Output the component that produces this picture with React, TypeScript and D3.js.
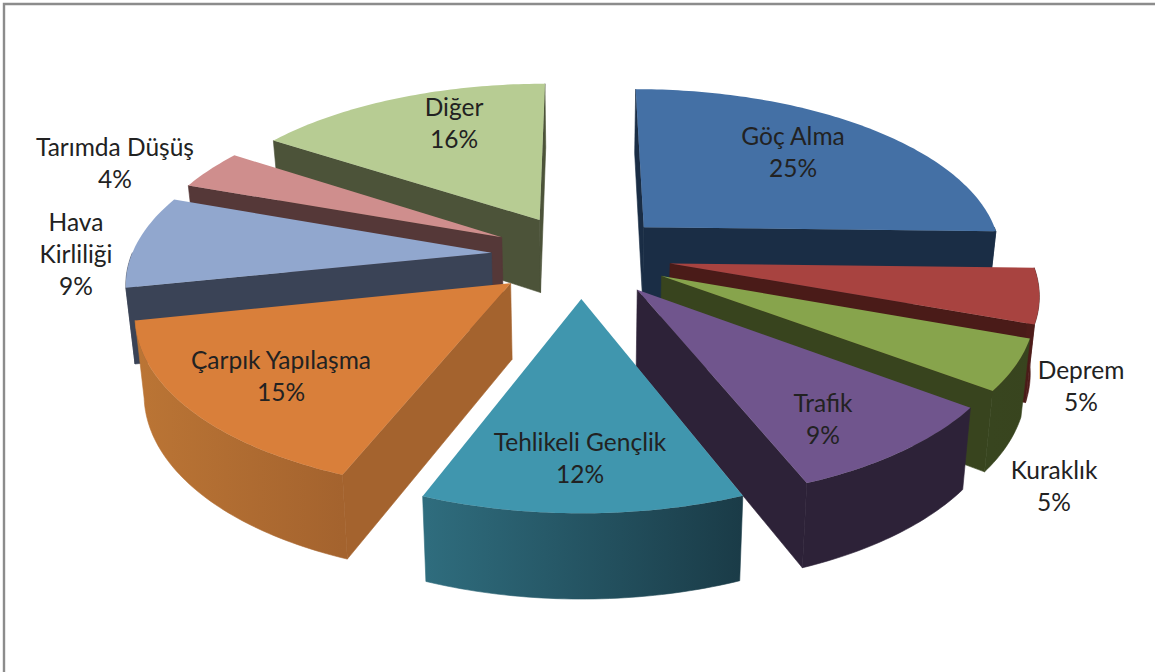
import React from "react";
import * as d3 from "d3";

const categories = ["Göç Alma", "Deprem", "Kuraklık", "Trafik", "Tehlikeli Gençlik", "Çarpık Yapılaşma", "Hava Kirliliği", "Tarımda Düşüş", "Diğer"];
const values = [25.4, 5.16, 4.72, 8.72, 11.89, 15.83, 8.75, 3.78, 15.75];
const topColors = ["#4470a5", "#a84340", "#87a44c", "#70558d", "#4096ae", "#d97f3a", "#91a7ce", "#cf8e8d", "#b7cc93"];
const cutColors = ["#1a2d45", "#4a1b18", "#38441e", "#2d2238", "#1f4754", "#a4632e", "#3a4356", "#553838", "#4c5339"];
const wallLeft = ["#1a2d45", "#4e1c19", "#38451f", "#2d2238", "#2f6d7e", "#bb7535", "#3a4356", "#553838", "#4c5339"];
const wallRight = ["#1a2d45", "#4a1b18", "#38441e", "#2d2238", "#1a3b47", "#a4632e", "#3a4356", "#553838", "#4c5339"];
const labelLines = [["Göç Alma", "25%"], ["Deprem", "5%"], ["Kuraklık", "5%"], ["Trafik", "9%"], ["Tehlikeli Gençlik", "12%"], ["Çarpık Yapılaşma", "15%"], ["Hava", "Kirliliği", "9%"], ["Tarımda Düşüş", "4%"], ["Diğer", "16%"]];
const labelX = [793, 1081, 1054, 823, 580, 281, 76, 115, 454];
const labelY = [145, 379, 479, 412, 451, 369, 231, 156, 116];

const W = 1155, H = 672;
const CX = 581, CY = 255.6, R = 360, T = 167, P = 0.152, EXPLODE = 0.25;
const VX = 585, XSHRINK = 0.98;
const deg = Math.PI / 180;

type Pt = [number, number];
// plane coordinates: X to the right, V towards the viewer; radius of the pie = 1
const toScreen = (X: number, V: number): Pt => {
  const s = 1 / (1 - P * V);
  return [CX + R * X * s, CY + T * V * s];
};
const drop = (p: Pt, V: number): Pt => [VX + (p[0] - VX) * XSHRINK, p[1] + 74.5 + 9 * V];
const line = d3.line<Pt>();

const pie = d3.pie<number>().sort(null);

export default function App() {
  const arcs = pie(values);
  const slices = arcs.map((a, i) => {
    const mid = (a.startAngle + a.endAngle) / 2;
    const ex = EXPLODE * Math.sin(mid), ev = -EXPLODE * Math.cos(mid);
    const plane = (t: number): [number, number] => [ex + Math.sin(t), ev - Math.cos(t)];
    const top = (t: number): Pt => toScreen(...plane(t));
    const bottom = (t: number): Pt => drop(top(t), plane(t)[1]);
    const apexT = toScreen(ex, ev);
    const apexB = drop(apexT, ev);
    const n = Math.max(4, Math.ceil((a.endAngle - a.startAngle) / deg));
    const angles = d3.range(n + 1).map((k) => a.startAngle + ((a.endAngle - a.startAngle) * k) / n);
    const topPath = line([apexT, ...angles.map(top)]) + "Z";
    const q0: Pt[] = [apexT, top(a.startAngle), bottom(a.startAngle), apexB];
    const q1: Pt[] = [apexT, top(a.endAngle), bottom(a.endAngle), apexB];
    const w0 = Math.max(a.startAngle, 90 * deg), w1 = Math.min(a.endAngle, 270 * deg);
    let wallPath: string | null = null;
    let gx: [number, number] = [0, 1];
    if (w1 > w0) {
      const wa = d3.range(n + 1).map((k) => w0 + ((w1 - w0) * k) / n);
      const tp = wa.map(top), bp = wa.map(bottom);
      wallPath = line([...tp, ...bp.reverse()]) + "Z";
      gx = d3.extent(tp, (d) => d[0]) as [number, number];
    }
    return { i, ay: apexT[1], topPath, q0, q1, wallPath, gx };
  });
  const order = d3.range(slices.length).sort((a, b) => slices[a].ay - slices[b].ay);
  const fontSize = 24.5;
  const lh = 32;
  return (
    <svg width={W} height={H} viewBox={`0 0 ${W} ${H}`} style={{ position: "fixed", left: 0, top: 0, background: "#fff" }}>
      <defs>
        {slices.map((s) => (
          <linearGradient key={s.i} id={`wall${s.i}`} gradientUnits="userSpaceOnUse" x1={s.gx[0]} x2={s.gx[1]} y1={0} y2={0}>
            <stop offset="0" stopColor={wallLeft[s.i]} />
            <stop offset="1" stopColor={wallRight[s.i]} />
          </linearGradient>
        ))}
      </defs>
      <path d="M4 672V4H1155" fill="none" stroke="#8c8c8c" strokeWidth={2.4} />
      {order.map((idx) => {
        const s = slices[idx];
        return (
          <g key={idx} data-name={categories[idx]}>
            {d3.polygonArea(s.q0) > 0 && <path d={line(s.q0) + "Z"} fill={cutColors[idx]} stroke={cutColors[idx]} strokeWidth={0.6} />}
            {d3.polygonArea(s.q1) < 0 && <path d={line(s.q1) + "Z"} fill={cutColors[idx]} stroke={cutColors[idx]} strokeWidth={0.6} />}
            {s.wallPath && <path d={s.wallPath} fill={`url(#wall${idx})`} stroke={`url(#wall${idx})`} strokeWidth={0.6} />}
            <path d={s.topPath} fill={topColors[idx]} />
          </g>
        );
      })}
      <g fontFamily="Lato, 'Open Sans', sans-serif" fontSize={fontSize} fill="#222" textAnchor="middle">
        {labelLines.map((lines, i) => (
          <text key={i}>
            {lines.map((t, k) => (
              <tspan key={k} x={labelX[i]} y={labelY[i] + k * lh}>{t}</tspan>
            ))}
          </text>
        ))}
      </g>
    </svg>
  );
}
